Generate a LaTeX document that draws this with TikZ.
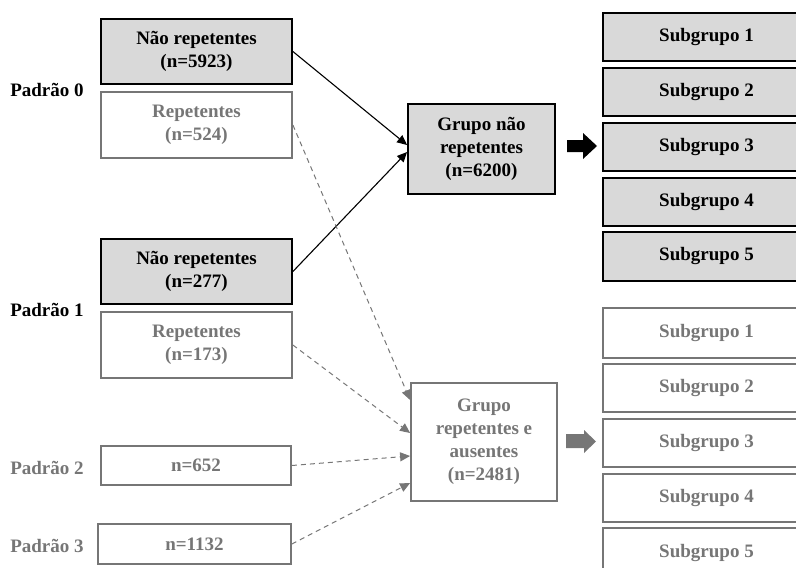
\documentclass[tikz,border=0pt]{standalone}
\usepackage{fontspec}
\setmainfont{Liberation Serif}
\usetikzlibrary{arrows.meta,calc}
\definecolor{boxfill}{RGB}{217,217,217}
\definecolor{gtxt}{RGB}{118,118,118}
\begin{document}
\begin{tikzpicture}[x=1pt,y=-1pt,
  every node/.style={font=\fontsize{19}{23}\selectfont\bfseries, align=center, inner sep=0pt},
  darkbox/.style={draw=black, line width=1.8pt, fill=boxfill, text=black},
  lightbox/.style={draw=gtxt, line width=1.8pt, fill=white, text=gtxt},
  darklabel/.style={text=black},
  lightlabel/.style={text=gtxt},
  solidarrow/.style={draw=black, line width=1.1pt, -{Triangle[length=10pt,width=9pt]}},
  dasharrow/.style={draw=gtxt, line width=1pt, dash pattern=on 5pt off 4pt, -{Triangle[length=10pt,width=9pt]}}
]
\useasboundingbox (0,0) rectangle (796,568);
\clip (0,0) rectangle (796,568);

% left labels
\node[darklabel] (lp0) at (47,90) {Padrão 0};
\node[darklabel] (lp1) at (47,310) {Padrão 1};
\node[lightlabel] (lp2) at (47,468) {Padrão 2};
\node[lightlabel] (lp3) at (47,546) {Padrão 3};

% left boxes
\node[darkbox, minimum width=191pt, minimum height=65pt] (nr0) at (196.5,51.5) {Não repetentes\\(n=5923)};
\node[lightbox, minimum width=191pt, minimum height=66pt] (r0) at (196.5,125) {Repetentes\\(n=524)};
\node[darkbox, minimum width=191pt, minimum height=65pt] (nr1) at (196.5,271.5) {Não repetentes\\(n=277)};
\node[lightbox, minimum width=191pt, minimum height=66pt] (r1) at (196.5,345) {Repetentes\\(n=173)};
\node[lightbox, minimum width=190pt, minimum height=39pt] (p2) at (196,465.5) {n=652};
\node[lightbox, minimum width=193pt, minimum height=40pt] (p3) at (194.5,544) {n=1132};

% group boxes
\node[darkbox, minimum width=147pt, minimum height=90pt] (g1) at (481.5,149) {Grupo não\\repetentes\\(n=6200)};
\node[lightbox, minimum width=146pt, minimum height=118pt] (g2) at (484,442) {Grupo\\repetentes e\\ausentes\\(n=2481)};

% block arrows
\fill[black] (567,140) -- (583,140) -- (583,133) -- (597,146) -- (583,159) -- (583,152) -- (567,152) -- cycle;
\fill[gtxt] (566,434) -- (584,434) -- (584,430) -- (596,441.5) -- (584,453) -- (584,448) -- (566,448) -- cycle;

% subgroups (dark)
\node[darkbox, minimum width=207pt, minimum height=48pt] (sa1) at (706.5,37) {Subgrupo 1};
\node[darkbox, minimum width=207pt, minimum height=48pt] (sa2) at (706.5,92) {Subgrupo 2};
\node[darkbox, minimum width=207pt, minimum height=48pt] (sa3) at (706.5,147) {Subgrupo 3};
\node[darkbox, minimum width=207pt, minimum height=48pt] (sa4) at (706.5,202) {Subgrupo 4};
\node[darkbox, minimum width=207pt, minimum height=49pt] (sa5) at (706.5,256.5) {Subgrupo 5};

% subgroups (light)
\node[lightbox, minimum width=207pt, minimum height=50pt] (sb1) at (706.5,333) {Subgrupo 1};
\node[lightbox, minimum width=207pt, minimum height=48pt] (sb2) at (706.5,388) {Subgrupo 2};
\node[lightbox, minimum width=207pt, minimum height=48pt] (sb3) at (706.5,443) {Subgrupo 3};
\node[lightbox, minimum width=207pt, minimum height=48pt] (sb4) at (706.5,498) {Subgrupo 4};
\node[lightbox, minimum width=207pt, minimum height=50pt] (sb5) at (706.5,553) {Subgrupo 5};

% connectors
\draw[solidarrow] (nr0.east) -- ([yshift=4pt]g1.west);
\draw[solidarrow] (nr1.east) -- ([yshift=-3pt]g1.west);
\draw[dasharrow] (r0.east) -- ([yshift=42pt]g2.west);
\draw[dasharrow] (r1.east) -- ([yshift=9pt]g2.west);
\draw[dasharrow] (p2.east) -- ([yshift=-14pt]g2.west);
\draw[dasharrow] (p3.east) -- ([yshift=-41pt]g2.west);
\end{tikzpicture}
\end{document}
